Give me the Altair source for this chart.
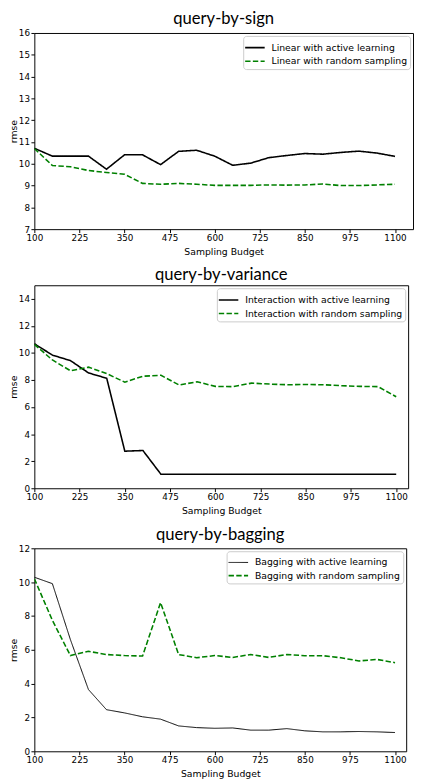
import altair as alt
import pandas as pd

budget = list(range(100, 1101, 50))
x_ticks = [100, 225, 350, 475, 600, 725, 850, 975, 1100]

# query-by-sign
sign_labels = ["Linear with active learning", "Linear with random sampling"]
sign_active = [10.71, 10.35, 10.35, 10.35, 9.75, 10.41, 10.41, 9.96, 10.57, 10.62, 10.35,
               9.93, 10.03, 10.28, 10.38, 10.47, 10.44, 10.52, 10.58, 10.49, 10.34]
sign_random = [10.70, 9.92, 9.86, 9.69, 9.60, 9.52, 9.10, 9.06, 9.10, 9.06, 9.01,
               9.01, 9.01, 9.03, 9.02, 9.03, 9.07, 9.00, 9.00, 9.03, 9.06]

# query-by-variance
variance_labels = ["Interaction with active learning", "Interaction with random sampling"]
variance_active = [10.68, 9.84, 9.43, 8.52, 8.13, 2.74, 2.79, 1.03, 1.03, 1.03, 1.03,
                   1.03, 1.03, 1.03, 1.03, 1.03, 1.03, 1.03, 1.03, 1.03, 1.03]
variance_random = [10.63, 9.48, 8.68, 8.95, 8.47, 7.84, 8.28, 8.35, 7.63, 7.87, 7.53,
                   7.51, 7.77, 7.70, 7.65, 7.67, 7.65, 7.58, 7.53, 7.51, 6.76]

# query-by-bagging
bagging_labels = ["Bagging with active learning", "Bagging with random sampling"]
bagging_active = [10.29, 9.91, 6.60, 3.65, 2.46, 2.27, 2.04, 1.90, 1.50, 1.40, 1.36,
                  1.38, 1.25, 1.25, 1.34, 1.21, 1.15, 1.15, 1.17, 1.15, 1.11]
bagging_random = [10.20, 7.74, 5.66, 5.91, 5.72, 5.66, 5.63, 8.79, 5.72, 5.53, 5.66,
                  5.55, 5.72, 5.55, 5.72, 5.65, 5.65, 5.53, 5.34, 5.43, 5.24]


def make_panel(title, labels, active, random, x_max, y_domain, y_ticks, width, height, active_width):
    df = pd.DataFrame({
        'budget': budget * 2,
        'rmse': active + random,
        'series': [labels[0]] * len(budget) + [labels[1]] * len(budget),
    })
    legend = alt.Legend(title=None, orient='top-right', offset=3, symbolStrokeWidth=active_width + 0.2)
    return alt.Chart(df).mark_line(clip=True).encode(
        x=alt.X('budget:Q', title='Sampling Budget',
                scale=alt.Scale(domain=[100, x_max], nice=False, zero=False),
                axis=alt.Axis(values=x_ticks, format='d', labelFlush=False)),
        y=alt.Y('rmse:Q', title='rmse',
                scale=alt.Scale(domain=y_domain, nice=False, zero=False),
                axis=alt.Axis(values=y_ticks, format='d')),
        color=alt.Color('series:N', scale=alt.Scale(domain=labels, range=['#000000', '#008000']),
                        legend=legend),
        strokeDash=alt.StrokeDash('series:N', scale=alt.Scale(domain=labels, range=[[1, 0], [5.5, 2.4]]),
                                  legend=legend),
        strokeWidth=alt.StrokeWidth('series:N', scale=alt.Scale(domain=labels, range=[active_width, 1.6]),
                                    legend=None),
    ).properties(
        title=alt.TitleParams(title, font='Lato', fontSize=17, fontWeight='normal', offset=1),
        width=width,
        height=height,
    )


p1 = make_panel('query-by-sign', sign_labels, sign_active, sign_random,
                1150, [7, 16], list(range(7, 17)), 388, 201, 1.6)
p2 = make_panel('query-by-variance', variance_labels, variance_active, variance_random,
                1133, [0, 15], list(range(0, 15, 2)), 383, 208, 1.6)
p3 = make_panel('query-by-bagging', bagging_labels, bagging_active, bagging_random,
                1131, [0, 12], list(range(0, 13, 2)), 381, 208, 1.0)

chart = alt.vconcat(p1, p2, p3, spacing=9.5).resolve_scale(
    x='independent', y='independent', color='independent',
    strokeDash='independent', strokeWidth='independent'
).resolve_legend(
    color='independent', strokeDash='independent'
).properties(
    padding={'left': 0, 'top': -8, 'right': 0, 'bottom': 0}
).configure_view(
    stroke='black', strokeWidth=1
).configure_axis(
    grid=False, domain=False, tickColor='black', tickSize=3.5,
    labelFont='DejaVu Sans', labelFontSize=9, labelColor='black', labelPadding=1.5,
    titleFont='DejaVu Sans', titleFontSize=9.5, titleFontWeight='normal', titleColor='black',
).configure_axisX(
    titlePadding=4
).configure_axisY(
    titlePadding=0
).configure_legend(
    labelFont='DejaVu Sans', labelFontSize=9.5, labelColor='black', labelLimit=0, labelOffset=8,
    symbolType='M-1.25,0H1.25', symbolSize=256,
    fillColor='white', strokeColor='#cccccc', padding=3, cornerRadius=3, rowPadding=0,
)

chart.save("out.html", embed_options={"renderer": "svg", "actions": False})
